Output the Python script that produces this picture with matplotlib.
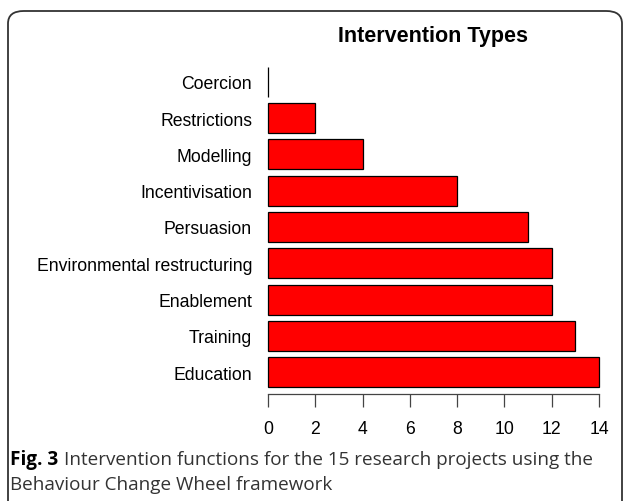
import matplotlib.pyplot as plt
from matplotlib.patches import FancyBboxPatch

categories = ['Education', 'Training', 'Enablement', 'Environmental restructuring',
              'Persuasion', 'Incentivisation', 'Modelling', 'Restrictions', 'Coercion']
counts = [14, 13, 12, 12, 11, 8, 4, 2, 0]
xticks = [0, 2, 4, 6, 8, 10, 12, 14]

W, H = 629, 502
fig = plt.figure(figsize=(W / 100, H / 100), dpi=100)

# rounded frame around the figure panel
frame = FancyBboxPatch((8 / W, -0.2), 614 / W, 1.2 - 12 / H,
                       boxstyle='round,pad=0,rounding_size=0.025',
                       transform=fig.transFigure, facecolor='none',
                       edgecolor='#333333', linewidth=1.3)
fig.patches.append(frame)

ax = fig.add_axes([254.8 / W, 1 - 395 / H, (612.2 - 254.8) / W, (395 - 61) / H])
pos = list(range(len(categories)))
ax.barh(pos, counts, height=0.83, color='#ff0000', edgecolor='black', linewidth=0.9)
ax.set_xlim(-0.56, 14.56)
ax.set_ylim(-0.6, 8.6)

ax.set_yticks(pos)
ax.set_yticklabels(categories, fontsize=12.7, family='Liberation Sans')
ax.tick_params(axis='y', length=0, pad=2)
ax.set_xticks(xticks)
ax.set_xticklabels([str(t) for t in xticks], fontsize=12.7, family='Liberation Sans')
ax.tick_params(axis='x', length=9, width=0.9, color='#444444', pad=10)

for s in ['top', 'right', 'left']:
    ax.spines[s].set_visible(False)
ax.spines['bottom'].set_bounds(0, 14)
ax.spines['bottom'].set_color('#444444')
ax.spines['bottom'].set_linewidth(0.9)

ax.set_title('Intervention Types', fontsize=15.5, fontweight='bold',
             family='Liberation Sans', pad=14)

# caption
fig.canvas.draw()
r = fig.canvas.get_renderer()
t1 = fig.text(10 / W, 1 - 460 / H, 'Fig. 3', fontsize=13.6, fontweight='bold',
              family='Open Sans', va='center', ha='left', color='black')
bb = t1.get_window_extent(renderer=r)
fig.text((bb.x1 + 6) / W, 1 - 460 / H,
         'Intervention functions for the 15 research projects using the',
         fontsize=13.6, family='Open Sans', va='center', ha='left', color='#333333')
fig.text(10 / W, 1 - 485 / H, 'Behaviour Change Wheel framework',
         fontsize=13.6, family='Open Sans', va='center', ha='left', color='#333333')

fig.savefig('out.png', dpi=100)
